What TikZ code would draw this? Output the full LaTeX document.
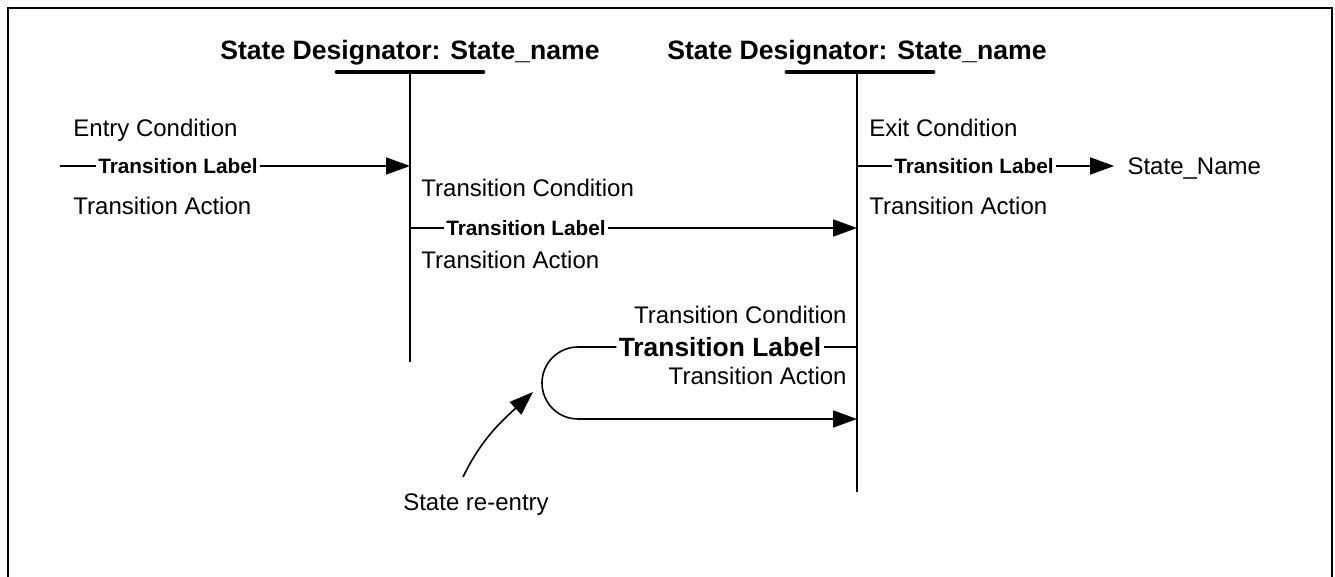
\documentclass[tikz,border=0pt]{standalone}
\usepackage{fontspec}
\setmainfont{Liberation Sans}
\usetikzlibrary{arrows.meta,positioning}

\begin{document}
\begin{tikzpicture}[
    x=0.5pt, y=-0.5pt,
    txt/.style={font=\fontsize{12}{14}\selectfont, inner sep=0pt, text height=8.6pt, text depth=0pt},
    lbl/.style={font=\bfseries\fontsize{10.4}{12}\selectfont, inner xsep=1pt, inner ysep=0pt, text height=7.5pt, text depth=0pt},
    biglbl/.style={lbl, font=\bfseries\fontsize{13.2}{15}\selectfont, text height=9.5pt},
    head/.style={font=\bfseries\fontsize{13.3}{16}\selectfont, inner sep=0pt, text height=9.6pt, text depth=0pt},
    line/.style={line width=0.8pt},
    bar/.style={line width=2.4pt, line cap=round},
    arrow/.style={line width=0.8pt, -{Triangle[length=12pt, width=8.5pt]}}
]

\useasboundingbox (0,0) rectangle (1335,577);
\draw[line width=1.2pt] (8,577) -- (8,8) -- (1332,8) -- (1332,577);

% state designators
\node[head] (sd1) at (410,50) {State Designator: State\_name};
\node[head] (sd2) at (857,50) {State Designator: State\_name};
\draw[bar] (337,72) -- (483,72);
\draw[bar] (787,72) -- (933,72);
\coordinate (s1top) at (410,72);
\coordinate (s1bot) at (410,362);
\coordinate (s2top) at (857,72);
\coordinate (s2bot) at (857,492);
\draw[line] (s1top) -- (s1bot);
\draw[line] (s2top) -- (s2bot);

% entry transition
\node[txt, anchor=west] (entry) at (73,128) {Entry Condition};
\node[lbl] (lab1) at (178,166) {Transition Label};
\node[txt, anchor=west] (act1) at (73,206) {Transition Action};
\coordinate (in0) at (60,166);
\coordinate (s1in) at (410,166);
\draw[line] (in0) -- (lab1.west);
\draw[arrow] (lab1.east) -- (s1in);

% transition between states
\node[txt, anchor=west] (cond2) at (421,188) {Transition Condition};
\node[lbl] (lab2) at (526,228) {Transition Label};
\node[txt, anchor=west] (act2) at (421,260) {Transition Action};
\coordinate (s1out) at (410,228);
\coordinate (s2in) at (857,228);
\draw[line] (s1out) -- (lab2.west);
\draw[arrow] (lab2.east) -- (s2in);

% exit transition
\node[txt, anchor=west] (exitc) at (869,128) {Exit Condition};
\node[lbl] (lab3) at (974,166) {Transition Label};
\node[txt, anchor=west] (act3) at (869,206) {Transition Action};
\node[txt, inner xsep=6.5pt, right=29pt of lab3] (next) {State\_Name};
\coordinate (s2out) at (857,166);
\draw[line] (s2out) -- (lab3.west);
\draw[arrow] (lab3.east) -- (next.west);

% re-entry loop
\node[txt, anchor=east] (cond4) at (847,315) {Transition Condition};
\node[biglbl] (lab4) at (720,347) {Transition Label};
\node[txt, anchor=east] (act4) at (847,376) {Transition Action};
\coordinate (s2loop) at (857,347);
\coordinate (looptop) at (578,347);
\coordinate (loopbot) at (578,419);
\coordinate (s2back) at (857,419);
\draw[line] (s2loop) -- (lab4.east);
\draw[arrow] (lab4.west) -- (looptop)
    .. controls (558.1,347) and (542,363.1) .. (542,383)
    .. controls (542,402.9) and (558.1,419) .. (loopbot) -- (s2back);

% pointer
\node[txt] (reent) at (476,502) {State re-entry};
\coordinate (ptrstart) at (463,477);
\coordinate (ptrend) at (533,392);
\draw[arrow] (ptrstart) to[out=64, in=223] (ptrend);

\end{tikzpicture}
\end{document}
